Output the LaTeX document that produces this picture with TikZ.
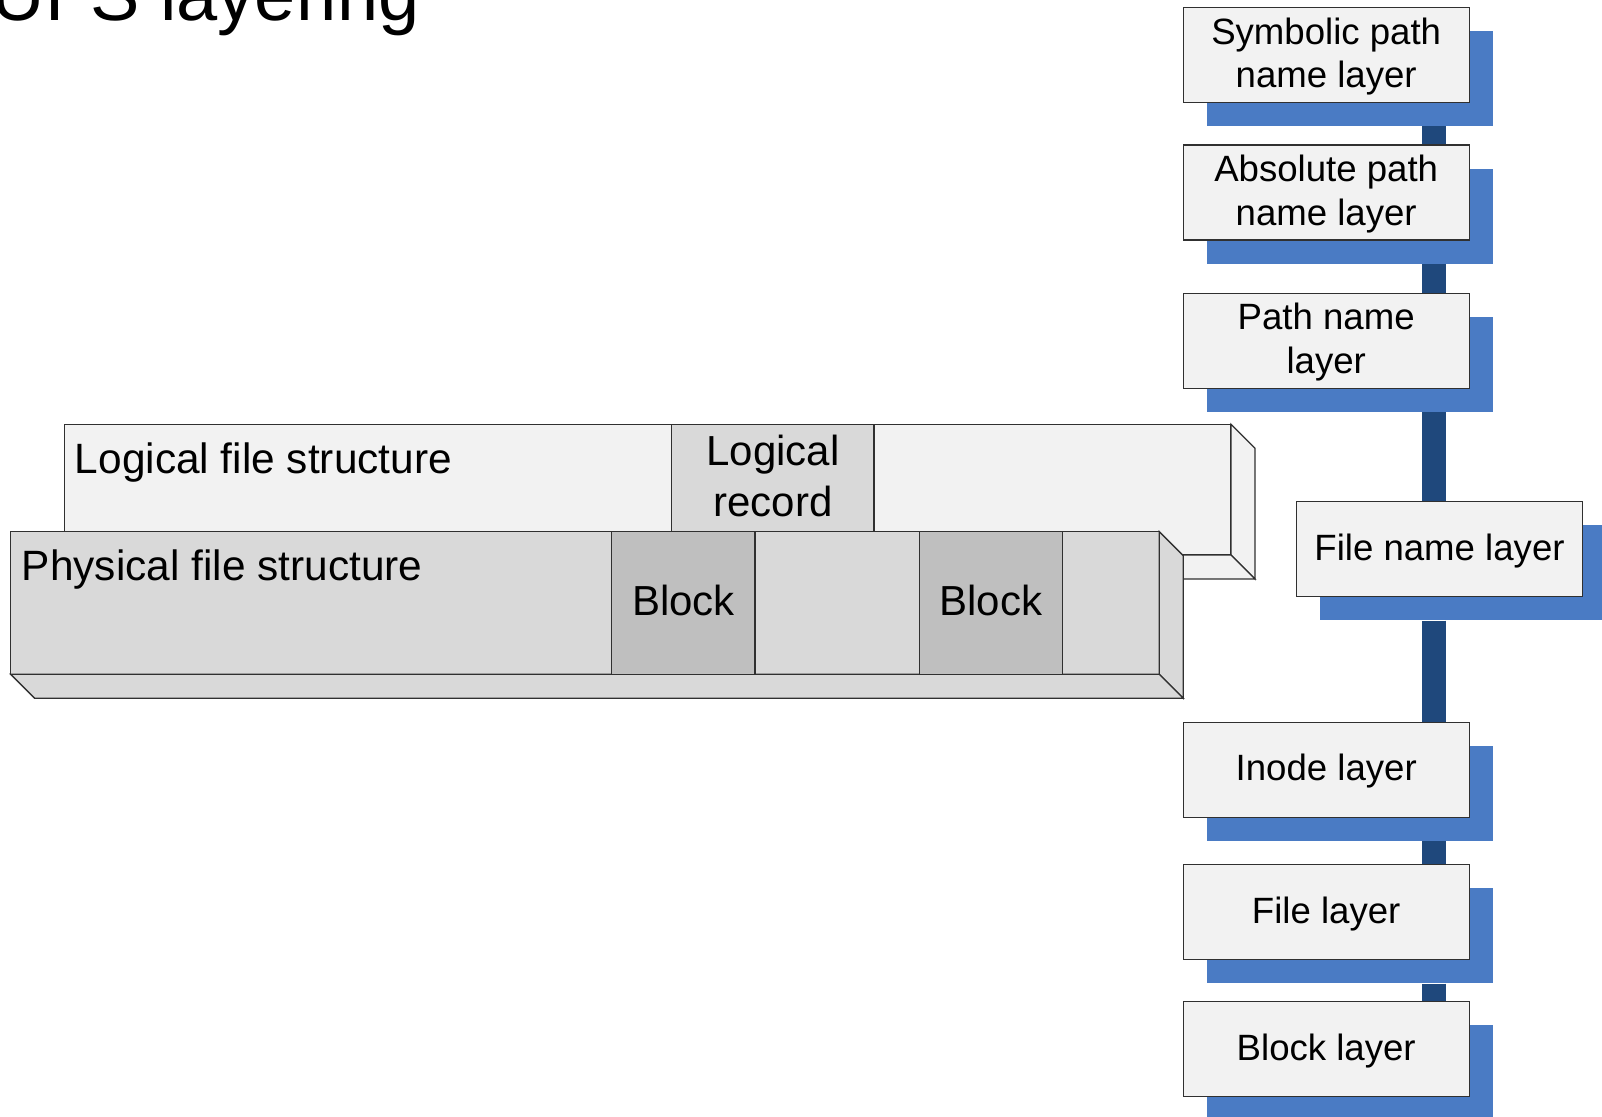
\documentclass[tikz,border=0pt]{standalone}
\usepackage{fontspec}
\setmainfont{Liberation Sans}
\usetikzlibrary{backgrounds}
\definecolor{boxfill}{HTML}{F2F2F2}
\definecolor{midgray}{HTML}{D9D9D9}
\definecolor{blockgray}{HTML}{BFBFBF}
\definecolor{shadowblue}{HTML}{4A7BC4}
\definecolor{barblue}{HTML}{1F487C}
\definecolor{edge}{HTML}{303030}
\begin{document}
\begin{tikzpicture}[x=0.5pt,y=-0.5pt,
  layer/.style={draw=edge, line width=0.65pt, fill=boxfill, minimum width=143pt,
    minimum height=47.5pt, inner sep=0pt, align=center,
    font=\fontsize{18.3}{21.75}\selectfont},
  oneline/.style={text height=14pt, text depth=3pt},
  twoline/.style={text height=35.5pt, text depth=3pt},
  shade/.style={fill=shadowblue, minimum width=143pt, minimum height=47.5pt, inner sep=0pt},
  bar/.style={draw=barblue, line width=12pt},
  slab/.style={draw=edge, line width=0.65pt, line join=miter},
  slabtext/.style={font=\fontsize{21.2}{25.5}\selectfont, inner sep=0pt},
  cell/.style={slab, inner sep=0pt, align=center, font=\fontsize{21}{25.5}\selectfont},
  titletext/.style={font=\fontsize{37}{44}\selectfont, inner sep=0pt, anchor=base west}
]
\path[use as bounding box] (0,0) rectangle (1602,1116);
\clip (0,0) rectangle (1602,1116);

% title (cut off at the top)
\node[titletext] (title) at (-8.6,20.7) {UFS layering};

% logical file structure slab
\draw[slab, fill=boxfill] (64.3,424.3) rectangle (1231,555);
\draw[slab, fill=boxfill] (1231,424.3) -- (1255,448.3) -- (1255,579) -- (1231,555) -- cycle;
\draw[slab, fill=boxfill] (64.3,555) -- (88.3,579) -- (1255,579) -- (1231,555) -- cycle;
\node[cell, fill=midgray, minimum width=101.15pt, minimum height=53.7pt,
  text height=41pt, text depth=3pt] (lrec) at (772.9,478) {Logical\\record};
\node[slabtext, anchor=base west] (ltxt) at (74.5,473) {Logical file structure};

% physical file structure slab
\draw[slab, fill=midgray] (10.7,531.7) rectangle (1159.3,674.3);
\draw[slab, fill=midgray] (1159.3,531.7) -- (1183.3,555.7) -- (1183.3,698.3) -- (1159.3,674.3) -- cycle;
\draw[slab, fill=midgray] (10.7,674.3) -- (34.7,698.3) -- (1183.3,698.3) -- (1159.3,674.3) -- cycle;
\node[cell, fill=blockgray, minimum width=71.65pt, minimum height=71.3pt,
  text height=15pt, text depth=3pt] (blk1) at (683.35,603) {Block};
\node[cell, fill=blockgray, minimum width=71.55pt, minimum height=71.3pt,
  text height=15pt, text depth=3pt] (blk2) at (990.95,603) {Block};
\node[slabtext, anchor=base west] (ptxt) at (21.5,580) {Physical file structure};

% layer column
\node[layer, twoline] (l1) at (1326.2,55) {Symbolic path\\name layer};
\node[layer, twoline] (l2) at (1326.2,192.5) {Absolute path\\name layer};
\node[layer, twoline] (l3) at (1326.2,340.8) {Path name\\layer};
\node[layer, oneline] (l4) at (1439.5,549.2) {File name layer};
\node[layer, oneline] (l5) at (1326.2,769.7) {Inode layer};
\node[layer, oneline] (l6) at (1326.2,912.2) {File layer};
\node[layer, oneline] (l7) at (1326.2,1049.2) {Block layer};
\coordinate (barx) at (1433.7,0);
\begin{pgfonlayer}{background}
  \foreach \i in {1,...,7}{
    \node[shade] (s\i) at ([xshift=11.75pt,yshift=-11.75pt]l\i.center) {};
  }
  \draw[bar] (s1.south -| barx) -- (l2.north -| barx);
  \draw[bar] (s2.south -| barx) -- (l3.north -| barx);
  \draw[bar] (s3.south -| barx) -- (l4.north -| barx);
  \draw[bar] (s4.south -| barx) -- (l5.north -| barx);
  \draw[bar] (s5.south -| barx) -- (l6.north -| barx);
  \draw[bar] (s6.south -| barx) -- (l7.north -| barx);
\end{pgfonlayer}
\end{tikzpicture}
\end{document}
